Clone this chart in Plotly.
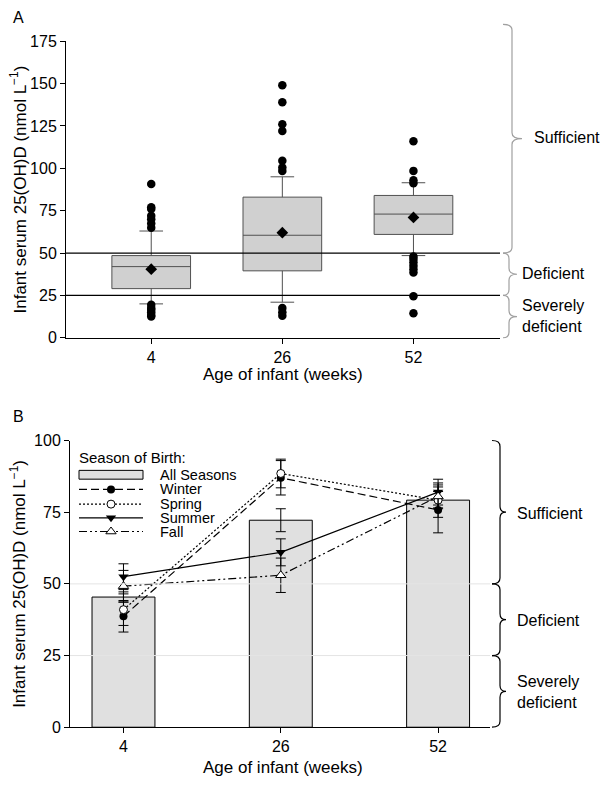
import plotly.graph_objects as go

W, H = 600, 792
FONT = "Liberation Sans, Arial, sans-serif"

# ---------------- data ----------------
weeks = ["4", "26", "52"]

# Panel A: box-plot summary statistics (nmol/L)
a_q1 = [29.0, 39.5, 61.0]
a_median = [42.0, 60.5, 73.0]
a_q3 = [48.5, 83.0, 84.0]
a_lowerfence = [20.0, 21.0, 48.5]
a_upperfence = [63.0, 95.0, 91.5]
a_mean = [40.5, 62.0, 71.0]
out_w4 = [90.7, 77.0, 76.0, 72.0, 70.0, 67.5, 65.0, 19.5, 17.5, 16.5, 15.0, 13.5, 12.5]
out_w26 = [149.0, 139.0, 126.0, 122.0, 104.5, 100.5, 98.5, 17.5, 15.0, 13.0]
out_w52 = [116.0, 98.5, 93.0, 91.2, 48.0, 46.5, 44.5, 42.5, 40.5, 38.5, 24.5, 14.5]

# Panel B: means and error (nmol/L)
all_seasons = [45.4, 72.2, 79.2]
all_err = [1.8, 4.0, 3.0]
winter = [38.7, 87.0, 75.8]
winter_err = [5.5, 6.0, 8.0]
spring = [41.0, 88.5, 79.2]
spring_err = [5.5, 5.0, 6.0]
summer = [52.5, 61.0, 82.0]
summer_err = [4.5, 4.7, 4.5]
fall = [49.2, 53.0, 80.5]
fall_err = [5.5, 6.0, 4.0]

status_labels = ["Sufficient", "Deficient", "Severely<br>deficient"]
thresholds = [25, 50]

# ---------------- layout geometry (pixels) ----------------
A_L, A_R, A_T, A_B = 66, 500, 34, 337
B_L, B_R, B_T, B_B = 70, 490, 442, 735
A_YMAX, B_YMAX = 175, 100


def pyA(v):
    return A_B - v * (A_B - A_T) / A_YMAX


def pyB(v):
    return B_B - v * (B_B - B_T) / B_YMAX


def brace(x0, xm, x1, ytop, ybot, r=6):
    ym = (ytop + ybot) / 2
    return (f"M{x0},{ytop} Q{xm},{ytop} {xm},{ytop + r} L{xm},{ym - r} "
            f"Q{xm},{ym} {x1},{ym} Q{xm},{ym} {xm},{ym + r} "
            f"L{xm},{ybot - r} Q{xm},{ybot} {x0},{ybot}")


fig = go.Figure()

# ---------------- Panel A ----------------
fig.add_trace(go.Box(
    x=weeks, q1=a_q1, median=a_median, q3=a_q3,
    lowerfence=a_lowerfence, upperfence=a_upperfence,
    width=0.6, whiskerwidth=0.3,
    fillcolor="#d0d0d0", line=dict(color="#505050", width=1),
    boxpoints=False, xaxis="x", yaxis="y", showlegend=False,
))
out_x = ["4"] * len(out_w4) + ["26"] * len(out_w26) + ["52"] * len(out_w52)
out_y = out_w4 + out_w26 + out_w52
fig.add_trace(go.Scatter(
    x=out_x, y=out_y, mode="markers",
    marker=dict(color="black", size=8.5, symbol="circle"),
    xaxis="x", yaxis="y", showlegend=False,
))
fig.add_trace(go.Scatter(
    x=weeks, y=a_mean, mode="markers",
    marker=dict(color="black", size=9, symbol="diamond"),
    xaxis="x", yaxis="y", showlegend=False,
))

# ---------------- Panel B ----------------
fig.add_trace(go.Bar(
    x=weeks, y=all_seasons, width=0.4,
    marker=dict(color="#e0e0e0", line=dict(color="black", width=1)),
    error_y=dict(type="data", array=all_err, color="black", thickness=1, width=5),
    xaxis="x2", yaxis="y2", showlegend=False,
))

series = [
    ("Winter", winter, winter_err, "8px,4px", dict(symbol="circle", color="black", size=8)),
    ("Spring", spring, spring_err, "2px,2px",
     dict(symbol="circle", color="white", size=8, line=dict(color="black", width=1))),
    ("Summer", summer, summer_err, "solid", dict(symbol="triangle-down", color="black", size=9)),
    ("Fall", fall, fall_err, "8px,3px,2px,3px,2px,3px",
     dict(symbol="triangle-up", color="white", size=9, line=dict(color="black", width=1))),
]
for name, vals, err, dash, mk in series:
    fig.add_trace(go.Scatter(
        x=weeks, y=vals, mode="lines+markers", name=name,
        line=dict(color="black", width=1.2, dash=dash),
        marker=mk,
        error_y=dict(type="data", array=err, color="black", thickness=1, width=5),
        xaxis="x2", yaxis="y2", showlegend=False,
    ))

# ---------------- manual legend (pixel overlay axes) ----------------
LEG_X0, LEG_X1, LEG_TX = 79, 143, 158
leg_rows = [477, 492, 507, 521, 535]
shapes = []
annotations = []
shapes.append(dict(type="rect", xref="x3", yref="y3", x0=LEG_X0, x1=LEG_X1,
                   y0=leg_rows[0] - 4.5, y1=leg_rows[0] + 4.5,
                   fillcolor="#e0e0e0", line=dict(color="black", width=1)))
for (name, vals, err, dash, mk), yy in zip(series, leg_rows[1:]):
    fig.add_trace(go.Scatter(
        x=[LEG_X0, (LEG_X0 + LEG_X1) / 2, LEG_X1], y=[yy, yy, yy],
        mode="lines", line=dict(color="black", width=1.2, dash=dash),
        xaxis="x3", yaxis="y3", showlegend=False, hoverinfo="skip",
    ))
    fig.add_trace(go.Scatter(
        x=[(LEG_X0 + LEG_X1) / 2], y=[yy], mode="markers", marker=mk,
        xaxis="x3", yaxis="y3", showlegend=False, hoverinfo="skip",
    ))
legend_names = ["All Seasons"] + [s[0] for s in series]
for nm, yy in zip(legend_names, leg_rows):
    annotations.append(dict(xref="x3", yref="y3", x=LEG_TX, y=yy, text=nm,
                            showarrow=False, xanchor="left", yanchor="middle",
                            font=dict(size=14.5, family=FONT, color="black")))
annotations.append(dict(xref="x3", yref="y3", x=77, y=459, text="Season of Birth:",
                        showarrow=False, xanchor="left", yanchor="middle",
                        font=dict(size=15, family=FONT, color="black")))

# ---------------- threshold lines ----------------
for t in thresholds:
    shapes.append(dict(type="line", xref="x3", yref="y3", x0=A_L, x1=A_R,
                       y0=pyA(t), y1=pyA(t), line=dict(color="black", width=1.2),
                       layer="below"))
    shapes.append(dict(type="line", xref="x3", yref="y3", x0=B_L, x1=B_R,
                       y0=pyB(t), y1=pyB(t), line=dict(color="#e4e4e4", width=1),
                       layer="below"))

# ---------------- braces ----------------
# Panel A (grey)
a_spans = [(50, 185), (25, 50), (0, 25)]
a_geom = [(503, 512, 522), (503, 509, 517), (503, 509, 517)]
for (lo, hi), (x0, xm, x1) in zip(a_spans, a_geom):
    shapes.append(dict(type="path", xref="x3", yref="y3",
                       path=brace(x0, xm, x1, pyA(hi), pyA(lo)),
                       line=dict(color="#a0a0a0", width=1.2)))
a_label_x = [532, 520, 520]
for lab, (lo, hi), lx in zip(status_labels, a_spans, a_label_x):
    annotations.append(dict(xref="x3", yref="y3", x=lx, y=(pyA(lo) + pyA(hi)) / 2 - 1,
                            text=lab, showarrow=False, xanchor="left", yanchor="middle",
                            align="left", font=dict(size=16, family=FONT, color="black")))
# Panel B (black)
b_spans = [(50, 100), (25, 50), (0, 25)]
for lo, hi in b_spans:
    shapes.append(dict(type="path", xref="x3", yref="y3",
                       path=brace(492, 500, 506, pyB(hi), pyB(lo)),
                       line=dict(color="black", width=1.2)))
for lab, (lo, hi) in zip(status_labels, b_spans):
    annotations.append(dict(xref="x3", yref="y3", x=515, y=(pyB(lo) + pyB(hi)) / 2 + 1,
                            text=lab, showarrow=False, xanchor="left", yanchor="middle",
                            align="left", font=dict(size=16, family=FONT, color="black")))

# ---------------- titles / panel letters ----------------
ytitle = "Infant serum 25(OH)D (nmol L<sup>\u22121</sup>)"
xtitle = "Age of infant (weeks)"
for txt, x, y, ang in [
    ("A", 18, 10, 0), ("B", 18, 417, 0),
    (xtitle, (A_L + A_R) / 2 - 0, 375, 0), (xtitle, (B_L + B_R) / 2 + 3, 776, 0),
    (ytitle, 18, (A_T + A_B) / 2, -90), (ytitle, 18, (B_T + B_B) / 2, -90),
]:
    annotations.append(dict(xref="x3", yref="y3", x=x, y=y, text=txt, textangle=ang,
                            showarrow=False, xanchor="center", yanchor="middle",
                            font=dict(size=17 if len(txt) > 1 else 16, family=FONT,
                                      color="black")))

axis_common = dict(showline=True, linecolor="black", linewidth=1, ticks="outside",
                   ticklen=5, tickcolor="black", showgrid=False, zeroline=False,
                   tickfont=dict(size=16, family=FONT, color="black"))

fig.update_layout(
    width=W, height=H, margin=dict(l=0, r=0, t=0, b=0),
    paper_bgcolor="white", plot_bgcolor="rgba(0,0,0,0)",
    font=dict(family=FONT, color="black"),
    showlegend=False,
    xaxis=dict(domain=[A_L / W, A_R / W], anchor="y", type="category",
               categoryorder="array", categoryarray=weeks, range=[-0.65, 2.66],
               **axis_common),
    yaxis=dict(domain=[1 - A_B / H, 1 - A_T / H], anchor="x", range=[0, A_YMAX],
               tickvals=[0, 25, 50, 75, 100, 125, 150, 175], **axis_common),
    xaxis2=dict(domain=[B_L / W, B_R / W], anchor="y2", type="category",
                categoryorder="array", categoryarray=weeks, range=[-0.34, 2.33],
                **axis_common),
    yaxis2=dict(domain=[1 - B_B / H, 1 - B_T / H], anchor="x2", range=[0, B_YMAX],
                tickvals=[0, 25, 50, 75, 100], **axis_common),
    xaxis3=dict(domain=[0, 1], anchor="y3", range=[0, W], visible=False, fixedrange=True),
    yaxis3=dict(domain=[0, 1], anchor="x3", range=[H, 0], visible=False, fixedrange=True),
    shapes=shapes,
    annotations=annotations,
    bargap=0.6,
)

fig.write_html("out.html",
               config={"displayModeBar": False},
               post_script="document.body.style.margin='0px';"
                           "document.body.style.overflow='hidden';")
